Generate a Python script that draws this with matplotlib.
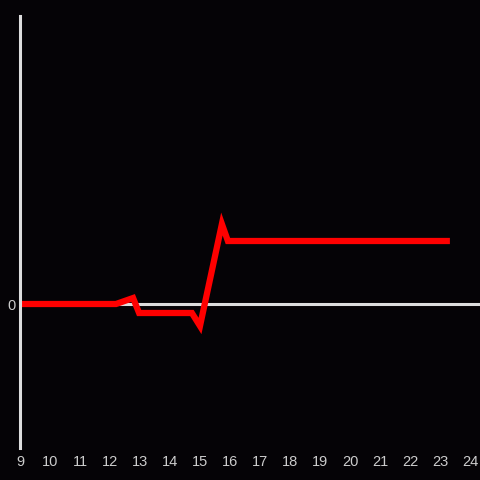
import matplotlib
matplotlib.use("Agg")
import matplotlib.pyplot as plt

# time of day (hours) and value
hours = [9.0, 12.2, 12.77, 12.97, 14.73, 15.0, 15.73, 15.93, 23.33]
values = [0.0, 0.0, 0.06, -0.09, -0.09, -0.22, 0.80, 0.63, 0.63]
xticks = list(range(9, 25))

bg = "#050306"
axis_col = "#dddddd"
text_col = "#cccccc"

fig = plt.figure(figsize=(4.8, 4.8), dpi=100, facecolor=bg)
ax = fig.add_axes([20 / 480, 32 / 480, 460 / 480, 432 / 480], facecolor=bg)

ax.axhline(0, color=axis_col, lw=2.2, zorder=1)
ax.plot(hours, values, color="#ff0000", lw=4.5, solid_joinstyle="miter",
        solid_capstyle="butt", zorder=2)

ax.set_xlim(9, 24 + 1 / 3)
ax.set_ylim(-1.44, 2.88)

ax.set_xticks(xticks)
ax.set_xticklabels([str(t) for t in xticks])
ax.set_yticks([0])
ax.set_yticklabels(["0"])
ax.tick_params(axis="both", length=0, colors=text_col, labelsize=10.5,
               labelfontfamily="Liberation Sans")
ax.tick_params(axis="x", pad=5)
ax.tick_params(axis="y", pad=3)

for s in ["top", "right", "bottom"]:
    ax.spines[s].set_visible(False)
ax.spines["left"].set_color(axis_col)
ax.spines["left"].set_linewidth(2.2)

fig.savefig("out.png", dpi=100, facecolor=bg)
